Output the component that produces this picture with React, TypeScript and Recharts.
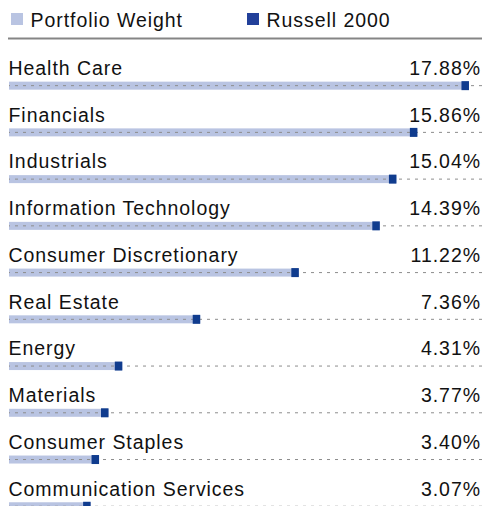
import React from 'react';
import { BarChart, Bar, XAxis, YAxis, LabelList } from 'recharts';

// sector rows, top to bottom
const sectors = [
  'Health Care',
  'Financials',
  'Industrials',
  'Information Technology',
  'Consumer Discretionary',
  'Real Estate',
  'Energy',
  'Materials',
  'Consumer Staples',
  'Communication Services',
];

// percent values
const portfolioWeight = [17.88, 15.86, 15.04, 14.39, 11.22, 7.36, 4.31, 3.77, 3.4, 3.07];
const russell2000 = [17.88, 15.86, 15.04, 14.39, 11.22, 7.36, 4.31, 3.77, 3.4, 3.07];

const seriesNames = ['Portfolio Weight', 'Russell 2000'];

const LIGHT = '#b9c4e2';
const DARK = '#103c8e';
const LEGEND_DARK = '#22409a';
const TEXT = '#111';
const FONT = '"Liberation Sans", Arial, Helvetica, sans-serif';
const FS = 19.5;
const LS = 0.95;

const W = 482;
const BAR_START = -0.125;
const X_MAX = 18.39;

const data = sectors.map((name, i) => ({
  name,
  weight: portfolioWeight[i],
  portfolio: [BAR_START, portfolioWeight[i]],
  russell: russell2000[i],
}));

const PortfolioShape = (props: any) => {
  const { x, y, width, height } = props;
  const cy = y + height / 2;
  return (
    <g>
      <rect x={x} y={y} width={width} height={height} fill={LIGHT} />
      <line
        x1={x}
        x2={W}
        y1={cy}
        y2={cy}
        stroke="#8d8d8d"
        strokeWidth={1}
        strokeDasharray="3 5"
        strokeDashoffset={-6}
      />
    </g>
  );
};

const MarkerShape = (props: any) => {
  const { x, y, width, height } = props;
  return <rect x={x + width - 7.5} y={y - 0.5} width={7.5} height={height + 1} fill={DARK} />;
};

const NameLabel = (props: any) => {
  const { y, value } = props;
  return (
    <text x={8.5} y={y - 6.7} fill={TEXT} fontSize={FS} letterSpacing={LS} fontFamily={FONT}>
      {value}
    </text>
  );
};

const ValueLabel = (props: any) => {
  const { y, value } = props;
  return (
    <text x={W - 1} y={y - 6.7} fill={TEXT} fontSize={FS} letterSpacing={LS} fontFamily={FONT} textAnchor="end">
      {value.toFixed(2)}%
    </text>
  );
};

const Legend = () => (
  <svg width={W} height={40} style={{ display: 'block' }}>
    <rect x={11} y={13} width={12} height={12} fill={LIGHT} />
    <text x={30.5} y={26.7} fill={TEXT} fontSize={FS} letterSpacing={LS} fontFamily={FONT}>
      {seriesNames[0]}
    </text>
    <rect x={247} y={13} width={12} height={12} fill={LEGEND_DARK} />
    <text x={266.5} y={26.7} fill={TEXT} fontSize={FS} letterSpacing={LS} fontFamily={FONT}>
      {seriesNames[1]}
    </text>
    <line x1={8} x2={W} y1={38.5} y2={38.5} stroke="#858585" strokeWidth={2} />
  </svg>
);

export default function App() {
  return (
    <div
      style={{
        position: 'absolute',
        top: 0,
        left: 0,
        width: W,
        height: 506,
        overflow: 'hidden',
        background: '#fff',
      }}
    >
      <Legend />
      <BarChart
        width={W}
        height={490}
        data={data}
        layout="vertical"
        margin={{ top: 22.65, right: 0, left: 9, bottom: 0 }}
        barGap={-8}
        barCategoryGap={0}
      >
        <XAxis type="number" domain={[BAR_START, X_MAX]} hide allowDataOverflow />
        <YAxis type="category" dataKey="name" hide />
        <Bar dataKey="portfolio" barSize={8} shape={PortfolioShape} isAnimationActive={false}>
          <LabelList dataKey="name" content={NameLabel} />
          <LabelList dataKey="weight" content={ValueLabel} />
        </Bar>
        <Bar dataKey="russell" barSize={8} shape={MarkerShape} isAnimationActive={false} />
      </BarChart>
    </div>
  );
}
